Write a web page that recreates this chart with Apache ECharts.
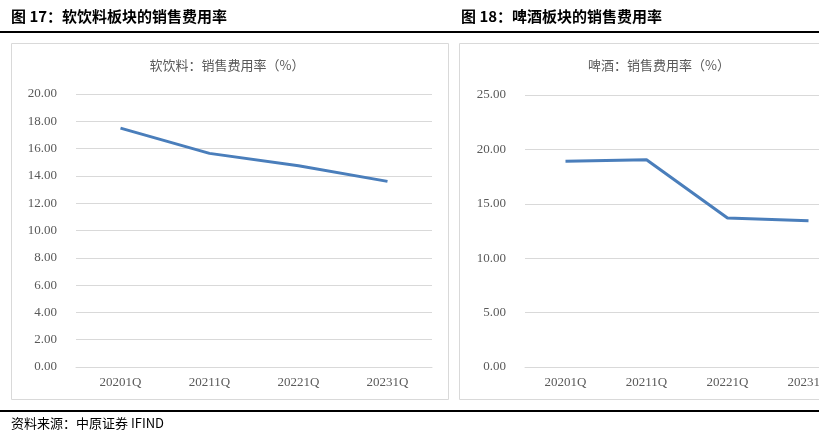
<!DOCTYPE html>
<html><head><meta charset="utf-8">
<script src="https://cdn.jsdelivr.net/npm/echarts@6/dist/echarts.min.js"></script>
<style>html,body{margin:0;padding:0;background:#fff}#c{width:819px;height:434px}</style>
</head><body><div id="c"></div>
<script>
const categories = ['20201Q', '20211Q', '20221Q', '20231Q'];
const softDrinkRate = [17.5, 15.65, 14.75, 13.6];
const beerRate = [18.9, 19.05, 13.7, 13.45];
const leftTitle = '图 17：软饮料板块的销售费用率';
const rightTitle = '图 18：啤酒板块的销售费用率';
const leftInner = '软饮料：销售费用率（%）';
const rightInner = '啤酒：销售费用率（%）';
const sourceText = '资料来源：中原证券 IFIND';

const chart = echarts.init(document.getElementById('c'));
const labelFont = 'Liberation Serif';
const gray = '#595959';
const gridLine = '#d9d9d9';
function xAx(i){return {type:'category',gridIndex:i,data:categories,boundaryGap:true,
  axisLine:{show:true,lineStyle:{color:gridLine}},axisTick:{show:false},
  axisLabel:{color:gray,fontFamily:labelFont,fontSize:13,margin:9,hideOverlap:false}};}
function yAx(i,max,step){return {type:'value',gridIndex:i,min:0,max:max,interval:step,
  axisLine:{show:false},axisTick:{show:false},
  splitLine:{lineStyle:{color:gridLine,width:1}},
  axisLabel:{color:gray,fontFamily:labelFont,fontSize:13,margin:19,formatter:v=>v.toFixed(2)}};}
chart.setOption({
  animation:false,
  grid:[{left:76,width:356,top:94,height:273,outerBoundsMode:'none',containLabel:false},
        {left:525,width:324,top:95,height:272,outerBoundsMode:'none',containLabel:false}],
  xAxis:[xAx(0),xAx(1)],
  yAxis:[yAx(0,20,2),yAx(1,25,5)],
  series:[
    {type:'line',xAxisIndex:0,yAxisIndex:0,data:softDrinkRate,symbol:'none',lineStyle:{color:'#4a7ebb',width:3}},
    {type:'line',xAxisIndex:1,yAxisIndex:1,data:beerRate,symbol:'none',lineStyle:{color:'#4a7ebb',width:3}}
  ],
  graphic:[
    {type:'rect',shape:{x:11.5,y:43.5,width:437,height:356},style:{fill:'none',stroke:'#d9d9d9',lineWidth:1},z:-1},
    {type:'rect',shape:{x:459.5,y:43.5,width:420,height:356},style:{fill:'none',stroke:'#d9d9d9',lineWidth:1},z:-1},
    {type:'rect',shape:{x:0,y:31,width:819,height:2},style:{fill:'#000'}},
    {type:'rect',shape:{x:0,y:410,width:819,height:2},style:{fill:'#000'}},
    {type:'text',left:11,top:9,style:{text:leftTitle,font:'bold 15px "Noto Sans CJK SC", sans-serif',fill:'#000'}},
    {type:'text',left:461,top:9,style:{text:rightTitle,font:'bold 15px "Noto Sans CJK SC", sans-serif',fill:'#000'}},
    {type:'text',x:227,y:65,style:{text:leftInner,font:'13px "Noto Sans CJK SC", sans-serif',fill:gray,align:'center',verticalAlign:'middle'}},
    {type:'text',x:659,y:65,style:{text:rightInner,font:'13px "Noto Sans CJK SC", sans-serif',fill:gray,align:'center',verticalAlign:'middle'}},
    {type:'text',left:11,top:417,style:{text:sourceText,font:'13px "Noto Sans CJK SC", sans-serif',fill:'#000'}}
  ]
});
</script></body></html>
